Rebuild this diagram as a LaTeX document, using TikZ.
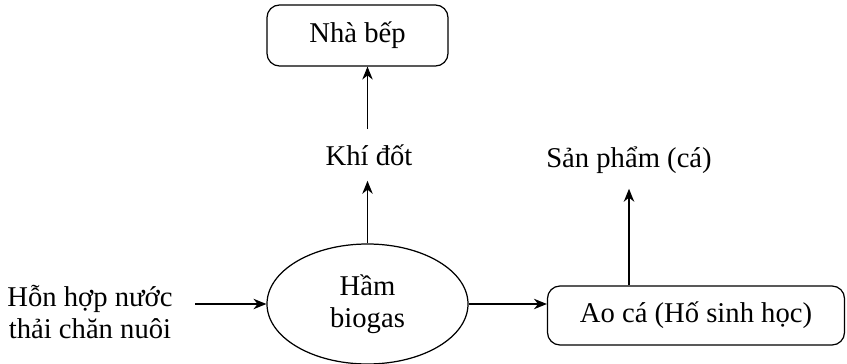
\documentclass[tikz,border=0pt]{standalone}
\usepackage{fontspec}
\setmainfont{Liberation Serif}
\usetikzlibrary{shapes.geometric, arrows.meta, positioning}

\begin{document}
\begin{tikzpicture}[
    font=\fontsize{16.3}{18.5}\selectfont,
    box/.style={rectangle, draw, rounded corners=2.5mm, line width=0.7pt,
                align=center},
    tank/.style={ellipse, draw, line width=0.7pt, minimum width=4.02cm,
                 minimum height=2.4cm, inner sep=0pt, align=center},
    lbl/.style={align=center, inner xsep=0.1cm, inner ysep=0.3cm},
    arrow/.style={-{Stealth[length=2.6mm, width=2.1mm]}, line width=0.7pt},
]
\useasboundingbox (0,0) rectangle (16.94,-7.28);

% Boxes
\node[box, minimum width=3.62cm, minimum height=1.22cm] (bep) at (7.15,-0.71) {Nhà bếp};
\node[box, minimum width=5.94cm, minimum height=1.18cm] (ao)  at (13.92,-6.31) {Ao cá (Hố sinh học)};
\node[tank] (ham) at (7.35,-6.08) {Hầm\\biogas};

% Labels
\node[lbl] (khi)  at (7.38,-3.1)  {Khí đốt};
\node[lbl] (sp)   at (12.58,-3.2) {Sản phẩm (cá)};
\node[lbl, inner xsep=0.45cm] (tron) at (1.8,-6.24) {Hỗn hợp nước\\thải chăn nuôi};

% Arrows
\draw[arrow] (tron.east |- ham) -- (ham.west);
\draw[arrow] (ham.north) -- (ham.north |- khi.south);
\draw[arrow] (ham.north |- khi.north) -- (ham.north |- bep.south);
\draw[arrow] (ham.east) -- (ham.east -| ao.west);
\draw[arrow] (ao.north -| sp) -- (sp);

\end{tikzpicture}
\end{document}
